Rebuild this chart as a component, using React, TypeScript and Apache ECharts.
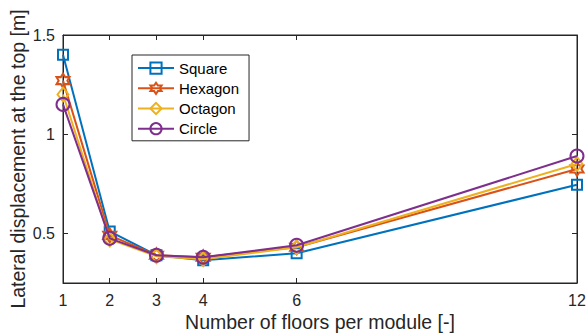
import React, { useEffect, useRef } from "react";
import * as echarts from "echarts";

const floors = [1, 2, 3, 4, 6, 12];
const square = [1.40, 0.51, 0.39, 0.365, 0.40, 0.745];
const hexagon = [1.27, 0.49, 0.39, 0.38, 0.43, 0.825];
const octagon = [1.20, 0.47, 0.385, 0.37, 0.43, 0.85];
const circle = [1.15, 0.475, 0.39, 0.38, 0.44, 0.89];
const yTicks = [0.5, 1, 1.5];
const seriesNames = ["Square", "Hexagon", "Octagon", "Circle"];

const HEX =
  "path://M0,-10 L2.887,-5 L8.66,-5 L5.774,0 L8.66,5 L2.887,5 L0,10 L-2.887,5 L-8.66,5 L-5.774,0 L-8.66,-5 L-2.887,-5 Z";

const FONT = "'Liberation Sans', Arial, Helvetica, sans-serif";
const AX = "#262626";

export default function App() {
  const ref = useRef<HTMLDivElement>(null);
  useEffect(() => {
    if (!ref.current) return;
    const chart = echarts.init(ref.current, undefined, { renderer: "svg" });
    const colors = ["#0072BD", "#D95319", "#EDB120", "#7E2F8E"];
    const values = [square, hexagon, octagon, circle];
    const symbols = ["rect", HEX, "diamond", "circle"];
    const sizes: any[] = [[10, 10], [13, 14], [11, 14], [13, 13]];
    const series = values.map((vals, i) => ({
      name: seriesNames[i],
      type: "line",
      xAxisIndex: 0,
      yAxisIndex: 0,
      data: floors.map((f, j) => [f, vals[j]]),
      symbol: symbols[i],
      symbolSize: sizes[i],
      showAllSymbol: true,
      lineStyle: { color: colors[i], width: 2 },
      itemStyle: { color: "none", borderColor: colors[i], borderWidth: 2 },
      emphasis: { disabled: true },
      z: 2 + i,
    }));
    const axisCommon = {
      type: "value",
      axisLine: { show: true, onZero: false, lineStyle: { color: AX, width: 1 } },
      splitLine: { show: false },
      nameMoveOverlap: false,
    };
    chart.setOption({
      animation: false,
      textStyle: { fontFamily: FONT },
      grid: {
        left: 63,
        right: 11,
        top: 35,
        bottom: 53,
        containLabel: false,
        outerBoundsMode: "none",
        show: true,
        borderColor: AX,
        borderWidth: 1,
        backgroundColor: "transparent",
      },
      legend: {
        orient: "vertical",
        left: 132,
        top: 55,
        data: seriesNames,
        itemWidth: 36,
        itemHeight: 14,
        itemGap: 4,
        padding: [5, 10, 4, 5],
        backgroundColor: "#fff",
        borderColor: AX,
        borderWidth: 1,
        textStyle: { fontSize: 15, color: "#000", fontFamily: FONT },
      },
      xAxis: [
        {
          ...axisCommon,
          position: "bottom",
          min: 1,
          max: 12,
          axisTick: { show: true, inside: true, length: 5, customValues: floors, lineStyle: { color: AX } },
          axisLabel: { customValues: floors, fontSize: 16, color: AX, margin: 9, fontFamily: FONT },
          name: "Number of floors per module [-]",
          nameLocation: "middle",
          nameGap: 29,
          nameTextStyle: { fontSize: 19.5, color: AX, fontFamily: FONT },
        },
        {
          ...axisCommon,
          position: "top",
          min: 1,
          max: 12,
          axisTick: { show: true, inside: true, length: 5, customValues: floors, lineStyle: { color: AX } },
          axisLabel: { show: false, customValues: floors },
        },
      ],
      yAxis: [
        {
          ...axisCommon,
          position: "left",
          min: 0.25,
          max: 1.5,
          axisTick: { show: true, inside: true, length: 5, customValues: yTicks, lineStyle: { color: AX } },
          axisLabel: { customValues: yTicks, fontSize: 16, color: AX, margin: 8, fontFamily: FONT },
          name: "Lateral displacement at the top [m]",
          nameLocation: "middle",
          nameGap: 35,
          nameRotate: 90,
          nameTextStyle: { fontSize: 19.5, color: AX, fontFamily: FONT },
        },
        {
          ...axisCommon,
          position: "right",
          min: 0.25,
          max: 1.5,
          axisTick: { show: true, inside: true, length: 5, customValues: yTicks, lineStyle: { color: AX } },
          axisLabel: { show: false, customValues: yTicks },
        },
      ],
      series,
    });
    return () => chart.dispose();
  }, []);
  return <div ref={ref} style={{ width: 588, height: 336, position: "absolute", left: 0, top: 0 }} />;
}
